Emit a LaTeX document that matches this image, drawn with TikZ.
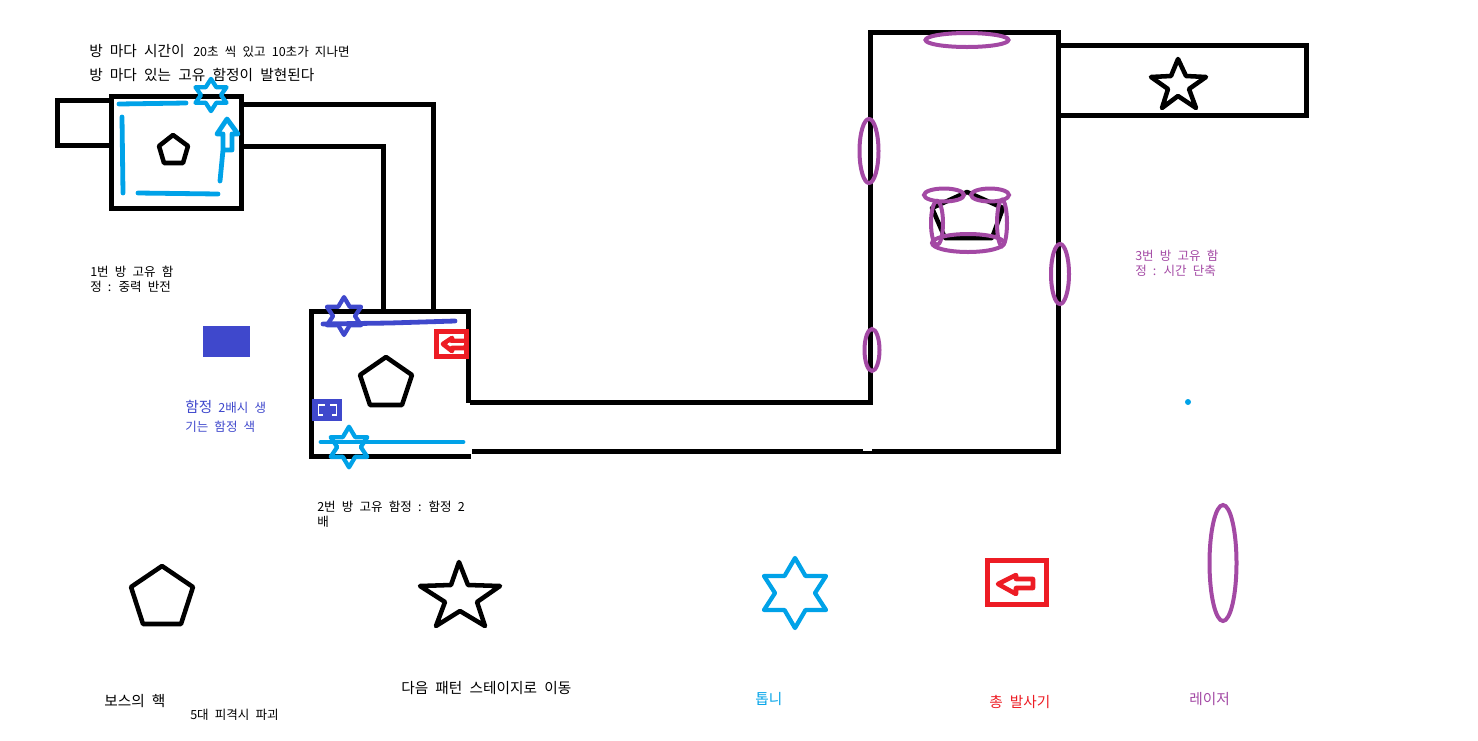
\documentclass[tikz,border=0pt]{standalone}
\usepackage{fontspec}
\setmainfont[WordSpace=2.2]{Noto Sans CJK KR}
\definecolor{saw}{HTML}{00A2E8}
\definecolor{trap}{HTML}{3F48CC}
\definecolor{gun}{HTML}{ED1C24}
\definecolor{laser}{HTML}{A349A4}
\tikzset{
  x=0.75pt,y=-0.75pt,
  wall/.style={line width=3.75pt,line join=miter,line cap=rect,draw=black},
  outl/.style={line width=3.4pt,line join=round,draw=black},
  hexline/.style={line width=3.2pt,line join=round,draw=saw},
  bar/.style={line width=3.6pt,line cap=round,draw=saw},
  laserring/.style={line width=3pt,draw=laser},
  lbl/.style={inner sep=0pt,anchor=base west,align=left,font=\fontsize{9.4pt}{11.25pt}\selectfont},
  big/.style={font=\fontsize{11pt}{12pt}\selectfont},
  pics/hexa/.style={code={
    \draw[pic actions] (0,-35)--(10.5,-17)--(31,-17)--(20,0)--(31,17)--(10.5,17)--(0,35)--(-10.5,17)--(-31,17)--(-20,0)--(-31,-17)--(-10.5,-17)--cycle;
  }},
}
\begin{document}
\begin{tikzpicture}
\useasboundingbox (0,0) rectangle (1478,740);
% walls
\draw[wall] (111,100) -- (57,100) -- (57,145) -- (111,145);
\draw[wall] (111,96) rectangle (241,208);
\draw[wall] (241,104) -- (433,104) -- (433,311);
\draw[wall] (241,146) -- (383,146) -- (383,311);
\draw[wall] (468,400) -- (468,311) -- (311,311) -- (311,456) -- (468,456);
\draw[wall] (472,402) -- (870,402) -- (870,32) -- (1058,32) -- (1058,451) -- (474,451);
\draw[wall] (1058,45) -- (1306,45) -- (1306,115) -- (1058,115);
\fill[white] (863,448) rectangle (872,450.5);
% pentagons
\draw[outl] (173,135)--(188,146)--(183,163)--(164,163)--(159,146)--cycle;
\draw[outl] (386,357)--(412,375)--(402,405)--(370,405)--(360,375)--cycle;
\draw[outl] (162,566)--(193,587)--(181,624)--(143,624)--(131,587)--cycle;
\draw[outl] (967,192)--(1003,208)--(992,238)--(945,238)--(932,208)--cycle;
% stars
\draw[outl] (459,562)--(468,585)--(500,586)--(477,602)--(485,626)--(460,611)--(436,626)--(445,602)--(420,586)--(451,585)--cycle;
\draw[outl] (1178,59)--(1186,76)--(1206,77)--(1189,89)--(1196,108)--(1178,96)--(1162,108)--(1168,89)--(1151,77)--(1171,76)--cycle;
% saws
\pic[hexline,xscale=.5,yscale=.46] at (211,95) {hexa};
\pic[hexline] at (795,593) {hexa};
\pic[hexline,draw=trap,xscale=.55,yscale=.54] at (344,316) {hexa};
\pic[hexline,xscale=.59,yscale=.58] at (349,447) {hexa};
% bars
\draw[bar] (119,104) -- (186,103);
\draw[bar] (122,117) -- (123,193);
\draw[bar] (138,193) -- (218,194);
\draw[bar,line join=round] (220,181) -- (223,150) -- (223,134) -- (217,134) -- (227,119) -- (238,134) -- (232,134) -- (232,150) -- (223,150);
\draw[bar,draw=trap] (323,324) -- (390,323) -- (455,321);
\draw[bar] (321,442) -- (463,442);
% trap colour swatch and small trap
\fill[trap] (203,326) rectangle (250,357);
\fill[trap] (312,399) rectangle (342,421);
\draw[white,line width=1.1pt] (325,405) -- (318.5,405) -- (318.5,415) -- (323,415);
\draw[white,line width=1.1pt] (330,405) -- (336.5,405) -- (336.5,415) -- (332,415);
% guns
\fill[gun] (434,329) rectangle (469,359);
\fill[white] (439,334) rectangle (464,354);
\draw[line width=3.5pt,draw=gun,line join=round] (443,344) -- (452,338) -- (452,341) -- (466,341) -- (466,348) -- (452,348) -- (452,351) -- cycle;
\draw[white,line width=1pt] (448,344) -- (464,344);
\draw[line width=3.75pt,draw=gun] (987.5,560.5) rectangle (1046.5,604.5);
\draw[line width=3.4pt,draw=gun,line join=round] (998,584) -- (1016,575) -- (1016,579) -- (1033,579) -- (1033,588) -- (1016,588) -- (1016,594) -- cycle;
% lasers
\draw[laserring] (1223,563) ellipse [x radius=13.5,y radius=58];
\draw[laserring] (967,40) ellipse [x radius=41.5,y radius=7];
\draw[laserring] (869,151) ellipse [x radius=9.5,y radius=32];
\draw[laserring] (1060,274) ellipse [x radius=9,y radius=30];
\draw[laserring] (872,350) ellipse [x radius=7.5,y radius=21];
\draw[laserring] (944,195) ellipse [x radius=20,y radius=6.5];
\draw[laserring] (990,195) ellipse [x radius=19,y radius=6.5];
\draw[laserring] (937,223) ellipse [x radius=6,y radius=22];
\draw[laserring] (1002,223) ellipse [x radius=5,y radius=23];
\draw[laserring] (968,243) ellipse [x radius=36,y radius=9];
% dot
\fill[saw] (1188,402) circle [radius=3];
% text
\node[lbl,big] (t1) at (89,56) {방 마다 시간이};
\node[lbl] (t2) at (193,56) {20초 씩 있고 10초가 지나면};
\node[lbl,big] (t3) at (89,80) {방 마다 있는 고유 함정이 발현된다};
\node[lbl] (t4) at (90,291) {1번 방 고유 함\\정 : 중력 반전};
\node[lbl,text=trap] (t5) at (185,431) {{\fontsize{11pt}{14.25pt}\selectfont 함정} 2배시 생\\[3pt]기는 함정 색};
\node[lbl] (t6) at (317,526) {2번 방 고유 함정 : 함정 2\\배};
\node[lbl,text=laser] (t7) at (1135,275) {3번 방 고유 함\\정 : 시간 단축};
\node[lbl,big] (t8) at (104,706) {보스의 핵};
\node[lbl] (t9) at (190,719) {5대 피격시 파괴};
\node[lbl,big] (t10) at (401,693) {다음 패턴 스테이지로 이동};
\node[lbl,big,text=saw] (t11) at (755,704) {톱니};
\node[lbl,big,text=gun] (t12) at (989,707) {총 발사기};
\node[lbl,big,text=laser] (t13) at (1189,704) {레이저};
\end{tikzpicture}
\end{document}
